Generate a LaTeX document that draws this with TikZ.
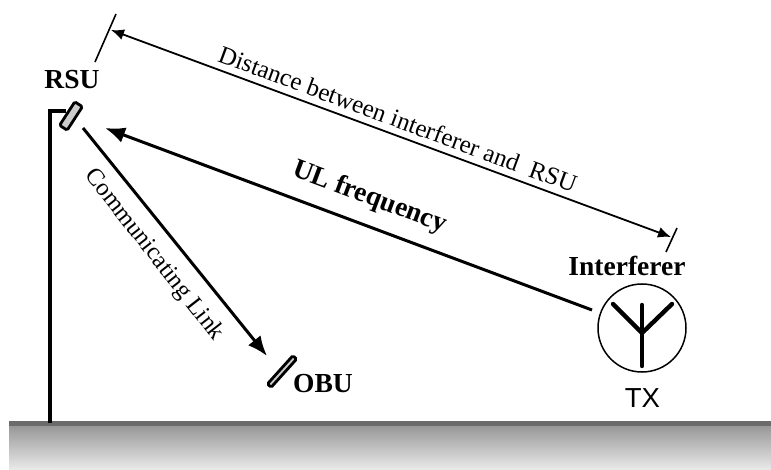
\documentclass[tikz,border=0pt]{standalone}
\usepackage{fontspec}
\setmainfont{Liberation Serif}
\newfontfamily\txfont{Liberation Sans}
\usetikzlibrary{arrows.meta}
\tikzset{
  lbl/.style={inner sep=0pt,font=\fontsize{25}{27}\selectfont},
  blbl/.style={inner sep=0pt,font=\fontsize{27.5}{29}\selectfont\bfseries},
  dim/.style={line width=1.8pt,{Latex[length=13pt,width=11pt]}-{Latex[length=13pt,width=11pt]}},
  heavy/.style={line width=3pt},
  device/.style={draw=black,line width=2.8pt,rounded corners=1.5pt,inner sep=0pt,minimum height=1pt,anchor=center}
}
\begin{document}
\begin{tikzpicture}[x=1pt,y=-1pt]
\useasboundingbox (0,0) rectangle (771,470);
% ground
\shade[top color=black!42,bottom color=black!8] (9,424) rectangle (771,470);
\fill[black!58] (9,421) rectangle (771,425.5);
% pole
\coordinate (poleB) at (50,423);
\coordinate (poleT) at (50,111);
\coordinate (poleR) at (66,111);
\draw[line width=3.4pt,miter limit=10] (poleB) -- (poleT) -- (poleR);
% devices
\node[device,fill=black!20,minimum width=28pt,minimum height=9pt,rotate=57] (rsu) at (71,116) {};
\node[device,fill=black!20,minimum width=38pt,minimum height=5pt,rotate=48] (obu) at (282,371.5) {};
% dimension ticks and arrow
\coordinate (t1a) at (116,14);
\coordinate (t1b) at (95,62);
\coordinate (t2a) at (677,228);
\coordinate (t2b) at (666,252);
\draw[line width=1.6pt] (t1a) -- (t1b);
\draw[line width=1.6pt] (t2a) -- (t2b);
\coordinate (dA) at (111,30);
\coordinate (dB) at (671,237);
\draw[dim] (dA) -- (dB);
% UL frequency
\coordinate (ulA) at (105,128);
\coordinate (ulB) at (592,310);
\draw[heavy,-{Latex[length=20pt,width=16pt]}] (ulB) -- (ulA);
% communicating link
\coordinate (clA) at (83,128);
\coordinate (clB) at (267,356);
\draw[heavy,-{Latex[length=20pt,width=16pt]}] (clA) -- (clB);
% interferer
\node[circle,draw=black,line width=1.5pt,minimum size=88pt,inner sep=0pt] (tx) at (642,328) {};
\coordinate (aJ) at (642,333);
\coordinate (aT) at (642,305);
\coordinate (aB) at (642,366);
\coordinate (aL) at (613,304);
\coordinate (aR) at (672,304);
\draw[line width=4.4pt,line cap=round,line join=round] (aT) -- (aB);
\draw[line width=4.4pt,line cap=round,line join=round] (aL) -- (aJ) -- (aR);
% labels
\node[blbl] (lrsu) at (72,79.5) {RSU};
\node[blbl] (lint) at (627,265.5) {Interferer};
\node[blbl] (lobu) at (323,383.5) {OBU};
\node[inner sep=0pt,font=\txfont\fontsize{27.5}{29}\selectfont] (ltx) at (642.5,398.5) {TX};
\node[lbl,rotate=-20.3] (ldist) at (398,119) {Distance between interferer and\ \ RSU};
\node[blbl,rotate=-20.5] (lul) at (369.5,197.5) {UL frequency};
\node[lbl,rotate=-52,font=\fontsize{24.5}{26}\selectfont] (lcl) at (154,255) {Communicating Link};
\end{tikzpicture}
\end{document}
